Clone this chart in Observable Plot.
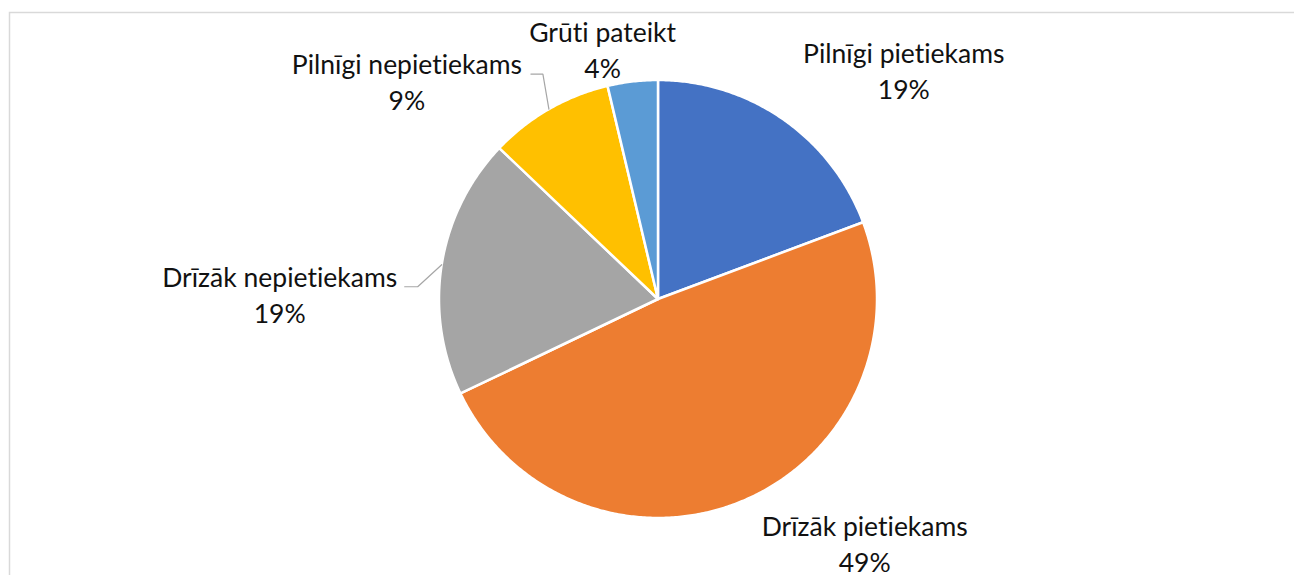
<!DOCTYPE html>
<html><head><meta charset="utf-8">
<script src="https://cdn.jsdelivr.net/npm/d3@7"></script>
<script src="https://cdn.jsdelivr.net/npm/@observablehq/plot@0.6"></script>
<style>body{margin:0;background:#fff} svg text{font-variant-ligatures:none;font-feature-settings:"liga" 0}</style>
</head><body><div id="chart"></div>
<script>
// ---- data ----
const categories = ["Pilnīgi pietiekams", "Drīzāk pietiekams", "Drīzāk nepietiekams", "Pilnīgi nepietiekams", "Grūti pateikt"];
const values = [19.3, 48.6, 19.2, 9.2, 3.7];
const colors = ["#4472C4", "#ED7D31", "#A5A5A5", "#FFC000", "#5B9BD5"];

// ---- layout ----
const W = 1294, H = 575, CX = 657.5, CY = 298.5, R = 219;
// label offsets (px) from each slice's mid-angle edge point: [dx, dy] to first-line baseline center
const labelOffsets = [[121, -56], [121, 35], [-162, 22], [-142, -35], [-30, -39]];
const leaderOffsets = [null, null, [[-24, 22], [-37, 22]], [[-6, -35], [-18, -35]], null];

const total = d3.sum(values);
let cum = 0;
const slices = categories.map((c, i) => {
  const a0 = cum / total * 2 * Math.PI; cum += values[i];
  const a1 = cum / total * 2 * Math.PI;
  return {c, i, a0, a1, mid: (a0 + a1) / 2};
});
const polar = (a, r) => [r * Math.sin(a), r * Math.cos(a)];

const polyPts = [];
for (const s of slices) {
  polyPts.push({c: s.c, x: 0, y: 0});
  const n = Math.max(2, Math.ceil((s.a1 - s.a0) / (Math.PI / 360)));
  for (let k = 0; k <= n; k++) {
    const [x, y] = polar(s.a0 + (s.a1 - s.a0) * k / n, 1);
    polyPts.push({c: s.c, x, y});
  }
  polyPts.push({c: s.c, x: 0, y: 0});
}

const labels = slices.map(s => {
  const [ex, ey] = polar(s.mid, 1);
  const [ox, oy] = labelOffsets[s.i];
  return {c: s.c, p: Math.round(values[s.i]) + "%", x: ex + ox / R, y: ey - oy / R};
});

const leaderPts = [];
for (const s of slices) {
  const lo = leaderOffsets[s.i];
  if (!lo) continue;
  const [ex, ey] = polar(s.mid, 1);
  leaderPts.push({c: s.c, x: ex, y: ey});
  for (const [ox, oy] of lo) leaderPts.push({c: s.c, x: ex + ox / R, y: ey - oy / R});
}

const chart = Plot.plot({
  width: W, height: H, margin: 0,
  x: {domain: [-1, 1], range: [CX - R, CX + R], axis: null},
  y: {domain: [-1, 1], range: [CY + R, CY - R], axis: null},
  color: {domain: categories, range: colors},
  style: {fontFamily: "Lato, 'Liberation Sans', sans-serif", background: "#fff"},
  marks: [
    Plot.frame({stroke: "#d9d9d9", strokeWidth: 1.5, insetLeft: 9, insetTop: 12, insetRight: -5, insetBottom: -5}),
    Plot.line(polyPts, {x: "x", y: "y", z: "c", fill: "c", stroke: "white", strokeWidth: 2.5, strokeLinejoin: "round", curve: "linear"}),
    Plot.line(leaderPts, {x: "x", y: "y", z: "c", stroke: "#a6a6a6", strokeWidth: 1.2}),
    Plot.text(labels, {x: "x", y: "y", text: "c", lineAnchor: "bottom", textAnchor: "middle", fontSize: 26.5, fill: "#111"}),
    Plot.text(labels, {x: "x", y: "y", text: "p", lineAnchor: "bottom", textAnchor: "middle", fontSize: 26.5, fill: "#111", dy: 36})
  ]
});
document.getElementById("chart").appendChild(chart);
</script>
</body></html>
